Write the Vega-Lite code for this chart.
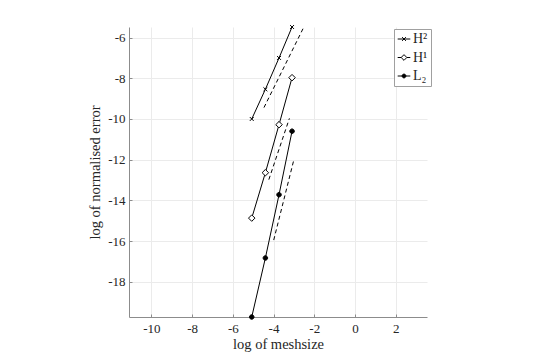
{
  "$schema": "https://vega.github.io/schema/vega-lite/v6.json",
  "width": 298,
  "height": 290,
  "autosize": {"type": "none"},
  "padding": {"left": 129, "top": 27, "right": 111, "bottom": 40},
  "background": "white",
  "config": {
    "font": "Liberation Serif",
    "view": {"stroke": null},
    "axis": {
      "domainColor": "#8c8c8c",
      "tickColor": "#8c8c8c",
      "gridColor": "#ebebeb",
      "gridWidth": 1,
      "labelColor": "#262626",
      "titleColor": "#262626",
      "labelFont": "Liberation Serif",
      "titleFont": "Liberation Serif",
      "labelFontSize": 13,
      "titleFontSize": 14.5,
      "titleFontWeight": "normal",
      "tickSize": -3,
      "domainWidth": 1
    },
    "legend": {
      "title": null,
      "padding": 3,
      "strokeColor": "#a0a0a0",
      "fillColor": "white",
      "symbolSize": 160,
      "symbolStrokeWidth": 1,
      "labelFontSize": 14,
      "labelFont": "Liberation Serif",
      "labelColor": "#262626",
      "rowPadding": 4.5,
      "labelOffset": 2
    }
  },
  "datasets": {
    "pts": [
      {"series": "H²", "x": -5.07, "y": -10.0},
      {"series": "H²", "x": -4.40, "y": -8.54},
      {"series": "H²", "x": -3.73, "y": -7.0},
      {"series": "H²", "x": -3.09, "y": -5.48},
      {"series": "H¹", "x": -5.07, "y": -14.87},
      {"series": "H¹", "x": -4.40, "y": -12.64},
      {"series": "H¹", "x": -3.73, "y": -10.28},
      {"series": "H¹", "x": -3.09, "y": -7.97},
      {"series": "L₂", "x": -5.07, "y": -19.73},
      {"series": "L₂", "x": -4.40, "y": -16.83},
      {"series": "L₂", "x": -3.73, "y": -13.72},
      {"series": "L₂", "x": -3.09, "y": -10.60}
    ],
    "refs": [
      {"series": "rH2", "x": -4.47, "y": -9.44},
      {"series": "rH2", "x": -2.52, "y": -5.50},
      {"series": "rH1", "x": -4.23, "y": -12.98},
      {"series": "rH1", "x": -3.22, "y": -9.97},
      {"series": "rL2", "x": -3.99, "y": -15.95},
      {"series": "rL2", "x": -3.00, "y": -12.0}
    ]
  },
  "encoding": {
    "x": {
      "field": "x",
      "type": "quantitative",
      "scale": {"domain": [-11.1, 3.54], "nice": false, "zero": false},
      "axis": {
        "values": [-10, -8, -6, -4, -2, 0, 2],
        "title": "log of meshsize",
        "labelExpr": "(datum.value < 0 ? '-' : '') + abs(datum.value)",
        "labelPadding": 8,
        "titlePadding": 2
      }
    },
    "y": {
      "field": "y",
      "type": "quantitative",
      "scale": {"domain": [-19.73, -5.48], "nice": false, "zero": false},
      "axis": {
        "values": [-18, -16, -14, -12, -10, -8, -6],
        "title": "log of normalised error",
        "labelExpr": "(datum.value < 0 ? '-' : '') + abs(datum.value)",
        "labelPadding": 7,
        "titlePadding": 5
      }
    }
  },
  "layer": [
    {
      "data": {"name": "refs"},
      "mark": {"type": "line", "color": "black", "strokeWidth": 1, "strokeDash": [4, 3]},
      "encoding": {"detail": {"field": "series"}}
    },
    {
      "data": {"name": "pts"},
      "mark": {"type": "line", "color": "black", "strokeWidth": 1},
      "encoding": {"detail": {"field": "series"}}
    },
    {
      "data": {"name": "pts"},
      "mark": {"type": "point", "stroke": "black", "strokeWidth": 1, "opacity": 1, "size": 42},
      "encoding": {
        "shape": {
          "field": "series",
          "type": "nominal",
          "scale": {
            "domain": ["H²", "H¹", "L₂"],
            "range": [
              "M-0.6,-0.6L0.6,0.6M-0.6,0.6L0.6,-0.6",
              "M0,-1L1,0L0,1L-1,0Z",
              "M0.7,0A0.7,0.7,0,1,1,-0.7,0A0.7,0.7,0,1,1,0.7,0Z"
            ]
          },
          "legend": null
        },
        "fill": {
          "field": "series",
          "type": "nominal",
          "scale": {"domain": ["H²", "H¹", "L₂"], "range": ["black", "white", "black"]},
          "legend": null
        }
      }
    },
    {
      "data": {"name": "pts"},
      "transform": [{"filter": "false"}],
      "mark": {"type": "point", "strokeWidth": 1, "opacity": 1, "size": 160},
      "encoding": {
        "shape": {
          "field": "series",
          "type": "nominal",
          "scale": {
            "domain": ["H²", "H¹", "L₂"],
            "range": [
              "M-1,0L1,0M-0.3,-0.3L0.3,0.3M-0.3,0.3L0.3,-0.3",
              "M-1,0L-0.45,0M0.45,0L1,0M0,-0.45L0.45,0L0,0.45L-0.45,0Z",
              "M-1,0L1,0M0.3,0A0.3,0.3,0,1,1,-0.3,0A0.3,0.3,0,1,1,0.3,0Z"
            ]
          },
          "legend": {"title": null, "orient": "none", "legendX": 265, "legendY": 2}
        },
        "fill": {
          "field": "series",
          "type": "nominal",
          "scale": {"domain": ["H²", "H¹", "L₂"], "range": ["black", "white", "black"]},
          "legend": {"title": null, "orient": "none", "legendX": 265, "legendY": 2}
        },
        "stroke": {
          "field": "series",
          "type": "nominal",
          "scale": {"domain": ["H²", "H¹", "L₂"], "range": ["black", "black", "black"]},
          "legend": {"title": null, "orient": "none", "legendX": 265, "legendY": 2}
        }
      }
    }
  ],
  "resolve": {"scale": {"shape": "independent", "fill": "independent", "stroke": "independent"}}
}
